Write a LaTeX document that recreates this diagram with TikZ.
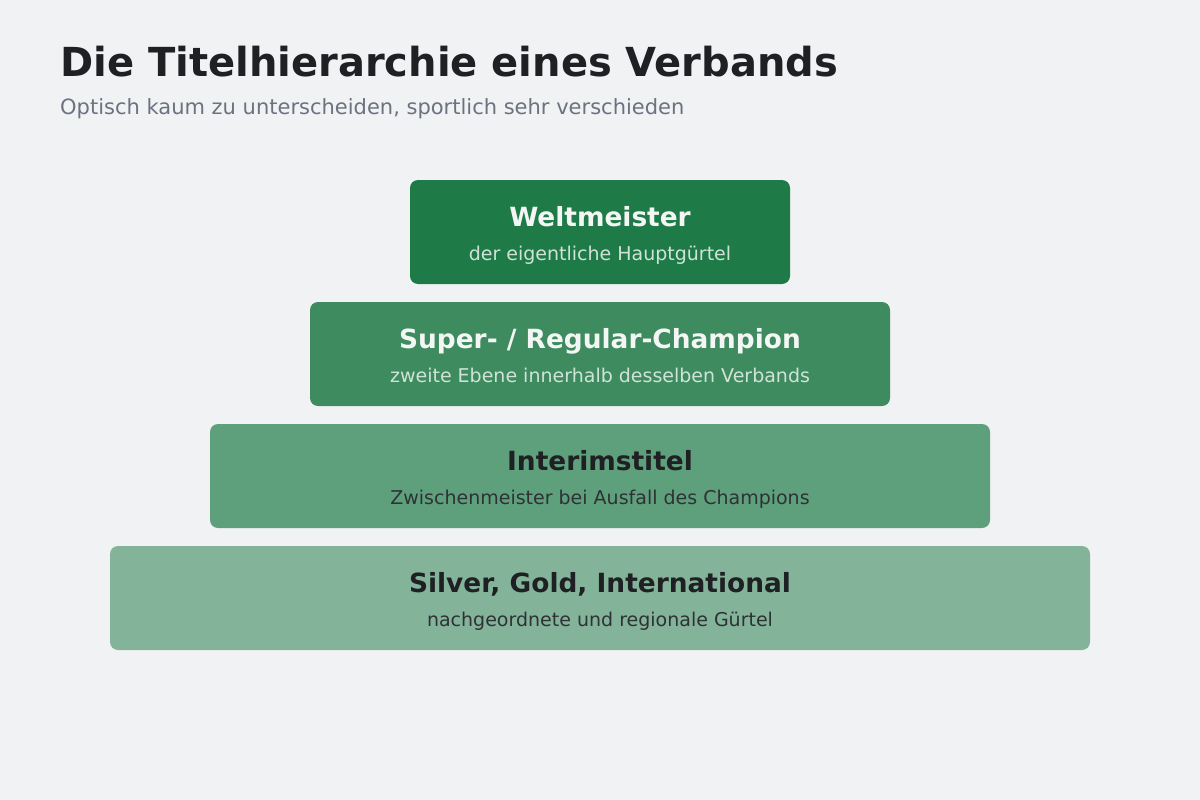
\documentclass[tikz,border=0pt]{standalone}
\usepackage{fontspec}
\setmainfont{DejaVu Sans}
\definecolor{bg}{HTML}{F1F2F4}
\definecolor{tier1}{HTML}{1E7B48}
\definecolor{tier2}{HTML}{3E8B5F}
\definecolor{tier3}{HTML}{5FA07C}
\definecolor{tier4}{HTML}{83B499}
\definecolor{titlecol}{HTML}{1F2023}
\definecolor{subcol}{HTML}{6B7280}
\definecolor{lighttext}{HTML}{F3F6F4}
\definecolor{lightsub}{HTML}{CFE3D6}
\definecolor{darksub}{HTML}{2E3135}
\tikzset{
  tierbox/.style={rounded corners=8pt, draw=none},
  tiertitle/.style={anchor=base, inner sep=0pt, font=\fontsize{26.4}{30}\selectfont\bfseries},
  tiersub/.style={anchor=base, inner sep=0pt, font=\fontsize{19}{23}\selectfont},
}
\begin{document}
\begin{tikzpicture}[x=1pt,y=-1pt]
\fill[bg] (0,0) rectangle (1200,800);
\useasboundingbox (0,0) rectangle (1200,800);
\node[anchor=base west, inner sep=0pt, text=titlecol, font=\fontsize{40}{46}\selectfont\bfseries] (title) at (60,77) {Die Titelhierarchie eines Verbands};
\node[anchor=base west, inner sep=0pt, text=subcol, font=\fontsize{21}{25}\selectfont] (subtitle) at (60,114.5) {Optisch kaum zu unterscheiden, sportlich sehr verschieden};
% tier 1
\fill[tierbox, tier1] (410,180) rectangle (790,284);
\node[tiertitle, text=lighttext] (t1) at (600,226) {Weltmeister};
\node[tiersub, text=lightsub] (s1) at (600,260) {der eigentliche Hauptgürtel};
% tier 2
\fill[tierbox, tier2] (310,302) rectangle (890,406);
\node[tiertitle, text=lighttext] (t2) at (600,348) {Super- / Regular-Champion};
\node[tiersub, text=lightsub] (s2) at (600,382) {zweite Ebene innerhalb desselben Verbands};
% tier 3
\fill[tierbox, tier3] (210,424) rectangle (990,528);
\node[tiertitle, text=titlecol] (t3) at (600,470) {Interimstitel};
\node[tiersub, text=darksub] (s3) at (600,504) {Zwischenmeister bei Ausfall des Champions};
% tier 4
\fill[tierbox, tier4] (110,546) rectangle (1090,650);
\node[tiertitle, text=titlecol] (t4) at (600,592) {Silver, Gold, International};
\node[tiersub, text=darksub] (s4) at (600,626) {nachgeordnete und regionale Gürtel};
\end{tikzpicture}
\end{document}
